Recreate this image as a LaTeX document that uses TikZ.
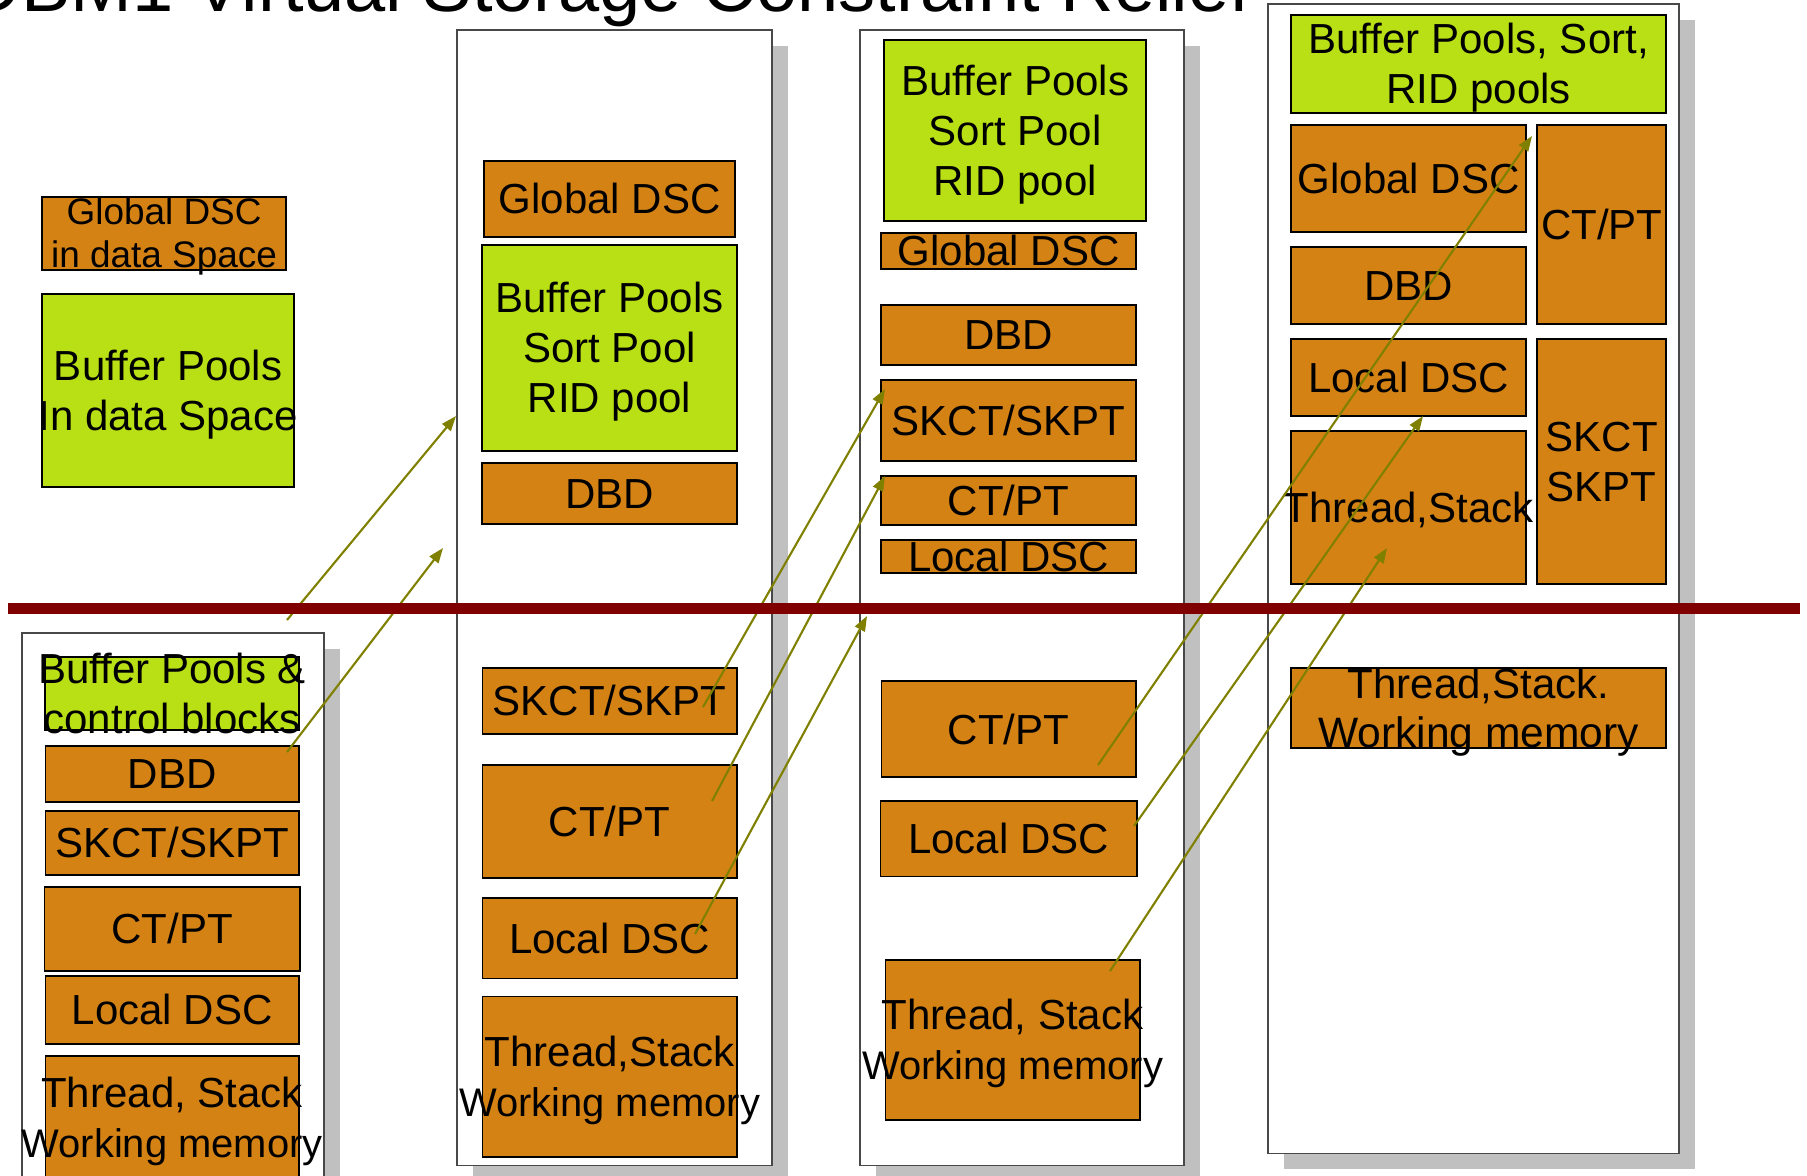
\documentclass[tikz,border=0pt]{standalone}
\usepackage{fontspec}
\setmainfont{Liberation Sans}
\usetikzlibrary{positioning, shadows, arrows.meta}
\definecolor{dscOrange}{RGB}{212, 130, 20}
\definecolor{poolGreen}{RGB}{185, 224, 20}
\definecolor{linkOlive}{RGB}{128, 128, 0}
\definecolor{barRed}{RGB}{128, 0, 0}
\definecolor{frameGray}{RGB}{72, 72, 72}
\definecolor{shadowGray}{RGB}{192, 192, 192}

% text centred in a box, allowed to spill over its edges
\newcommand{\boxtext}[1]{%
  \makebox[0pt]{\raisebox{\dimexpr(\depth-\height)/2-0.11em\relax}[0pt][0pt]{%
    \begin{tabular}[b]{@{}c@{}}#1\end{tabular}}}}
\newcommand{\workmem}{{\fontsize{11.35}{14.2}\selectfont Working memory}}

\begin{document}
\begin{tikzpicture}
    [
        x=0.01cm, y=-0.01cm,
        dscbox/.style={
            draw=black, line width=0.55pt, fill=dscOrange,
            inner sep=0pt, outer sep=0pt,
            font=\fontsize{11.95}{14.2}\selectfont
        },
        poolbox/.style={dscbox, fill=poolGreen},
        colframe/.style={
            draw=frameGray, line width=0.45pt, fill=white, inner sep=0pt,
            anchor=north west,
            drop shadow={shadow xshift=0.16cm, shadow yshift=-0.16cm,
                fill=shadowGray, opacity=1}
        },
        link/.style={
            draw=linkOlive, line width=0.6pt,
            -{Triangle[length=0.15cm, width=0.11cm]}
        },
        divider/.style={draw=barRed, line width=0.115cm}
    ]

\useasboundingbox (0,0) rectangle (1807,1175);

% Title (cut by the top edge)
\node (title) [
        anchor=base west, inner sep=0pt,
        font=\fontsize{21.05}{25}\selectfont
    ] at (-33,11) {DBM1 Virtual Storage Constraint Relief};

% Column frames
\node (col1) [
        colframe, minimum width=3.02cm, minimum height=5.7cm
    ] at (21,632) {};

\node (col2) [
        colframe, minimum width=3.15cm, minimum height=11.35cm
    ] at (456,29) {};

\node (col3) [
        colframe, minimum width=3.24cm, minimum height=11.35cm
    ] at (859,29) {};

\node (col4) [
        colframe, minimum width=4.11cm, minimum height=11.49cm
    ] at (1267,3) {};

% Data space (top left)
\node (dsc-space) [
        dscbox, anchor=north west, minimum width=2.44cm, minimum height=0.73cm,
        font=\fontsize{10.5}{12.2}\selectfont
    ] at (42,197) {\boxtext{Global DSC\\in data Space}};

\node (pool-space) [
        poolbox, below=0.24cm of dsc-space.south west, anchor=north west,
        minimum width=2.52cm, minimum height=1.93cm
    ] {\boxtext{Buffer Pools\\In data Space}};

% Column 1
\node (c1-bp) [
        poolbox, anchor=north west, minimum width=2.54cm, minimum height=0.73cm
    ] at (45,657) {\boxtext{Buffer Pools \&\\control blocks}};

\node (c1-dbd) [
        dscbox, below=0.16cm of c1-bp, minimum width=2.53cm, minimum height=0.56cm
    ] {\boxtext{DBD}};

\node (c1-skct) [
        dscbox, below=0.09cm of c1-dbd, minimum width=2.53cm, minimum height=0.64cm
    ] {\boxtext{SKCT/SKPT}};

\node (c1-ctpt) [
        dscbox, below=0.12cm of c1-skct, minimum width=2.55cm, minimum height=0.84cm
    ] {\boxtext{CT/PT}};

\node (c1-local) [
        dscbox, below=0.05cm of c1-ctpt, minimum width=2.53cm, minimum height=0.68cm
    ] {\boxtext{Local DSC}};

\node (c1-thread) [
        dscbox, below=0.12cm of c1-local, minimum width=2.53cm, minimum height=1.23cm
    ] {\boxtext{Thread, Stack\\\workmem}};

% Column 2
\node (c2-global) [
        dscbox, anchor=north west, minimum width=2.51cm, minimum height=0.76cm
    ] at (484,161) {\boxtext{Global DSC}};

\node (c2-pool) [
        poolbox, below=0.08cm of c2-global, minimum width=2.55cm, minimum height=2.06cm
    ] {\boxtext{Buffer Pools\\Sort Pool\\RID pool}};

\node (c2-dbd) [
        dscbox, below=0.12cm of c2-pool, minimum width=2.55cm, minimum height=0.61cm
    ] {\boxtext{DBD}};

\node (c2-skct) [
        dscbox, below=1.44cm of c2-dbd, minimum width=2.54cm, minimum height=0.66cm
    ] {\boxtext{SKCT/SKPT}};

\node (c2-ctpt) [
        dscbox, below=0.31cm of c2-skct, minimum width=2.54cm, minimum height=1.13cm
    ] {\boxtext{CT/PT}};

\node (c2-local) [
        dscbox, below=0.20cm of c2-ctpt, minimum width=2.54cm, minimum height=0.80cm
    ] {\boxtext{Local DSC}};

\node (c2-thread) [
        dscbox, below=0.18cm of c2-local, minimum width=2.54cm, minimum height=1.60cm
    ] {\boxtext{Thread,Stack\\\workmem}};

% Column 3
\node (c3-pool) [
        poolbox, anchor=north west, minimum width=2.62cm, minimum height=1.81cm
    ] at (884,40) {\boxtext{Buffer Pools\\Sort Pool\\RID pool}};

\node (c3-global) [
        dscbox, below=0.12cm of c3-pool, xshift=-0.065cm,
        minimum width=2.55cm, minimum height=0.36cm
    ] {\boxtext{Global DSC}};

\node (c3-dbd) [
        dscbox, below=0.36cm of c3-global, minimum width=2.55cm, minimum height=0.60cm
    ] {\boxtext{DBD}};

\node (c3-skct) [
        dscbox, below=0.15cm of c3-dbd, minimum width=2.55cm, minimum height=0.81cm
    ] {\boxtext{SKCT/SKPT}};

\node (c3-ctpt) [
        dscbox, below=0.15cm of c3-skct, minimum width=2.55cm, minimum height=0.49cm
    ] {\boxtext{CT/PT}};

\node (c3-local) [
        dscbox, below=0.15cm of c3-ctpt, minimum width=2.55cm, minimum height=0.33cm
    ] {\boxtext{Local DSC}};

\node (c3-ctpt-low) [
        dscbox, below=1.08cm of c3-local, minimum width=2.54cm, minimum height=0.96cm
    ] {\boxtext{CT/PT}};

\node (c3-local-low) [
        dscbox, below=0.24cm of c3-ctpt-low, minimum width=2.56cm, minimum height=0.75cm
    ] {\boxtext{Local DSC}};

\node (c3-thread) [
        dscbox, below=0.83cm of c3-local-low, xshift=0.04cm,
        minimum width=2.54cm, minimum height=1.60cm
    ] {\boxtext{Thread, Stack\\\workmem}};

% Column 4
\node (c4-pool) [
        poolbox, anchor=north west, minimum width=3.75cm, minimum height=0.98cm
    ] at (1291,15) {\boxtext{Buffer Pools, Sort,\\RID pools}};

\node (c4-global) [
        dscbox, below=0.12cm of c4-pool.south west, anchor=north west,
        minimum width=2.35cm, minimum height=1.07cm
    ] {\boxtext{Global DSC}};

\node (c4-dbd) [
        dscbox, below=0.15cm of c4-global, minimum width=2.35cm, minimum height=0.77cm
    ] {\boxtext{DBD}};

\node (c4-local) [
        dscbox, below=0.15cm of c4-dbd, minimum width=2.35cm, minimum height=0.77cm
    ] {\boxtext{Local DSC}};

\node (c4-thread) [
        dscbox, below=0.15cm of c4-local, minimum width=2.35cm, minimum height=1.53cm
    ] {\boxtext{Thread,Stack}};

\node (c4-ctpt) [
        dscbox, below=0.12cm of c4-pool.south east, anchor=north east,
        minimum width=1.29cm, minimum height=1.99cm
    ] {\boxtext{CT/PT}};

\node (c4-skct) [
        dscbox, below=0.15cm of c4-ctpt, minimum width=1.29cm, minimum height=2.45cm
    ] {\boxtext{SKCT\\SKPT}};

\node (c4-work) [
        dscbox, below=0.84cm of c4-thread.south west, anchor=north west,
        minimum width=3.75cm, minimum height=0.80cm
    ] {\boxtext{Thread,Stack.\\{\fontsize{12.1}{14.2}\selectfont Working memory}}};

% Moves above the bar
\coordinate (bpcb-from) at (287,620);
\coordinate (bpcb-to) at (456,416);
\coordinate (dbd-from) at (287,752);
\coordinate (dbd-to) at (443,548);
\coordinate (skct-from) at (703,707);
\coordinate (skct-to) at (885,389);
\coordinate (ctpt-from) at (712,801);
\coordinate (ctpt-to) at (885,476);
\coordinate (ldsc-from) at (695,934);
\coordinate (ldsc-to) at (867,616);
\coordinate (ctpt3-from) at (1098,765);
\coordinate (ctpt3-to) at (1532,136);
\coordinate (ldsc3-from) at (1134,826);
\coordinate (ldsc3-to) at (1423,416);
\coordinate (thread3-from) at (1110,971);
\coordinate (thread3-to) at (1387,548);

\draw[link] (bpcb-from) -- (bpcb-to);
\draw[link] (dbd-from) -- (dbd-to);
\draw[link] (skct-from) -- (skct-to);
\draw[link] (ctpt-from) -- (ctpt-to);
\draw[link] (ldsc-from) -- (ldsc-to);
\draw[link] (ctpt3-from) -- (ctpt3-to);
\draw[link] (ldsc3-from) -- (ldsc3-to);
\draw[link] (thread3-from) -- (thread3-to);

% The 2GB bar
\coordinate (bar-left) at (8,608.5);
\coordinate (bar-right) at (1800,608.5);
\draw[divider] (bar-left) -- (bar-right);

\end{tikzpicture}
\end{document}
